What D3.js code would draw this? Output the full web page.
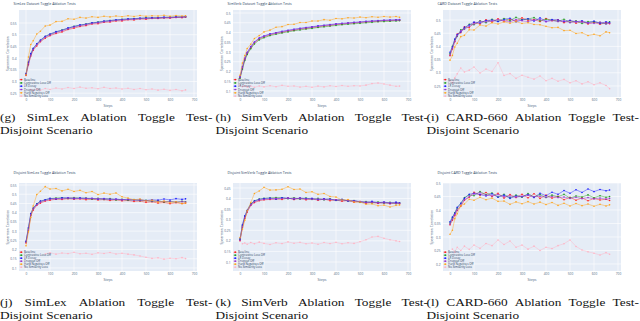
<!DOCTYPE html>
<html>
<head>
<meta charset="utf-8">
<script src="https://cdn.jsdelivr.net/npm/d3@7"></script>
<style>
  html, body { margin: 0; padding: 0; background: #fff; }
  svg { display: block; }
</style>
</head>
<body>
<svg id="fig" width="640" height="321"></svg>
<script>
// ---- data ----
const steps = [0,10,20,30,45,60,80,100,125,150,175,200,225,250,275,300,325,350,375,400,425,450,475,500,525,550,575,600,625,650,665];
const xTicks = [0,100,200,300,400,500,600,700];

const seriesNames = ["Baseline", "Contrastive Loss Off", "LR Decay", "Dropout Off", "Hard Negatives Off", "No Similarity Loss"];

const panelLetters = ["g", "h", "i", "j", "k", "l"];
const panelTitles = [
  "SimLex Dataset Toggle Ablation Tests",
  "SimVerb Dataset Toggle Ablation Tests",
  "CARD Dataset Toggle Ablation Tests",
  "Disjoint SimLex Toggle Ablation Tests",
  "Disjoint SimVerb Toggle Ablation Tests",
  "Disjoint CARD Toggle Ablation Tests"
];
const captionDatasets = ["SimLex", "SimVerb", "CARD-660", "SimLex", "SimVerb", "CARD-660"];

const yTicksG = [0.25,0.3,0.35,0.4,0.45,0.5,0.55];
const yTicksH = [0.1,0.15,0.2,0.25,0.3,0.35,0.4,0.45,0.5];
const yTicksI = [0.25,0.3,0.35,0.4,0.45,0.5];
const yTicksJ = [0.1,0.15,0.2,0.25,0.3,0.35,0.4,0.45,0.5,0.55];
const yTicksK = [0.1,0.15,0.2,0.25,0.3,0.35,0.4,0.45];
const yTicksL = [0.2,0.25,0.3,0.35,0.4,0.45,0.5];

// series order: red, green, blue, purple, orange, pink
const simlexFull = [
  [0.326,0.372,0.409,0.434,0.452,0.47,0.485,0.496,0.505,0.512,0.522,0.528,0.535,0.539,0.546,0.547,0.553,0.554,0.559,0.559,0.564,0.563,0.568,0.566,0.57,0.569,0.572,0.571,0.574,0.573,0.575],
  [0.331,0.38,0.417,0.44,0.46,0.475,0.492,0.502,0.511,0.52,0.527,0.536,0.54,0.546,0.55,0.554,0.557,0.561,0.562,0.566,0.566,0.569,0.569,0.572,0.571,0.573,0.573,0.575,0.575,0.577,0.576],
  [0.334,0.383,0.419,0.442,0.461,0.477,0.493,0.503,0.513,0.519,0.529,0.535,0.542,0.545,0.551,0.553,0.558,0.56,0.564,0.565,0.568,0.568,0.571,0.571,0.573,0.572,0.575,0.574,0.576,0.576,0.578],
  [0.329,0.376,0.413,0.437,0.457,0.473,0.489,0.499,0.509,0.517,0.525,0.533,0.538,0.543,0.548,0.551,0.555,0.558,0.561,0.563,0.565,0.566,0.568,0.569,0.57,0.571,0.572,0.573,0.574,0.575,0.576],
  [0.328,0.405,0.458,0.474,0.503,0.515,0.537,0.541,0.556,0.557,0.568,0.566,0.574,0.571,0.577,0.574,0.579,0.576,0.58,0.577,0.581,0.578,0.582,0.579,0.581,0.58,0.583,0.579,0.582,0.58,0.581],
  [null,null,0.266,0.261,0.268,0.263,0.27,0.266,0.272,0.268,0.274,0.27,0.276,0.271,0.273,0.269,0.275,0.27,0.272,0.268,0.271,0.266,0.27,0.265,0.268,0.263,0.267,0.262,0.266,0.26,0.264]
];
const simverbFull = [
  [0.168,0.215,0.262,0.292,0.321,0.347,0.366,0.378,0.387,0.396,0.4,0.408,0.411,0.418,0.42,0.426,0.428,0.434,0.435,0.441,0.442,0.447,0.448,0.452,0.453,0.457,0.457,0.461,0.46,0.463,0.462],
  [0.166,0.212,0.256,0.287,0.317,0.341,0.362,0.373,0.384,0.391,0.398,0.403,0.409,0.413,0.418,0.421,0.426,0.429,0.433,0.436,0.44,0.442,0.445,0.447,0.45,0.452,0.455,0.456,0.458,0.459,0.461],
  [0.172,0.224,0.268,0.298,0.328,0.351,0.372,0.382,0.393,0.399,0.406,0.411,0.417,0.421,0.426,0.429,0.434,0.437,0.441,0.444,0.447,0.449,0.452,0.454,0.457,0.459,0.461,0.463,0.464,0.465,0.466],
  [0.171,0.221,0.266,0.296,0.326,0.35,0.37,0.381,0.391,0.398,0.404,0.41,0.415,0.42,0.424,0.428,0.432,0.436,0.439,0.443,0.446,0.448,0.451,0.453,0.456,0.458,0.46,0.462,0.463,0.464,0.465],
  [0.18,0.243,0.282,0.318,0.34,0.369,0.384,0.403,0.412,0.427,0.43,0.441,0.442,0.451,0.451,0.459,0.459,0.466,0.463,0.472,0.47,0.476,0.474,0.479,0.476,0.481,0.478,0.482,0.479,0.482,0.478],
  [0.128,0.122,0.127,0.12,0.125,0.119,0.126,0.121,0.127,0.122,0.129,0.124,0.126,0.12,0.124,0.119,0.125,0.121,0.127,0.123,0.128,0.124,0.127,0.126,0.13,0.138,0.141,0.136,0.13,0.124,0.125]
];
const cardFull = [
  [0.365,0.39,0.418,0.447,0.452,0.474,0.471,0.49,0.485,0.501,0.492,0.505,0.494,0.503,0.496,0.508,0.499,0.502,0.494,0.506,0.497,0.501,0.49,0.498,0.488,0.495,0.485,0.492,0.484,0.49,0.486],
  [0.372,0.4,0.425,0.438,0.463,0.466,0.484,0.482,0.497,0.49,0.503,0.495,0.506,0.498,0.51,0.501,0.504,0.509,0.497,0.503,0.5,0.495,0.503,0.491,0.497,0.487,0.494,0.493,0.49,0.486,0.493],
  [0.378,0.398,0.428,0.445,0.455,0.472,0.481,0.492,0.489,0.498,0.5,0.494,0.502,0.507,0.493,0.5,0.505,0.496,0.508,0.495,0.502,0.5,0.494,0.499,0.493,0.497,0.489,0.496,0.487,0.493,0.49],
  [0.368,0.393,0.42,0.44,0.459,0.465,0.476,0.485,0.495,0.493,0.496,0.501,0.497,0.493,0.502,0.497,0.494,0.5,0.502,0.493,0.498,0.494,0.497,0.49,0.495,0.492,0.49,0.487,0.492,0.485,0.488],
  [0.348,0.366,0.398,0.412,0.437,0.442,0.463,0.462,0.481,0.477,0.49,0.485,0.493,0.488,0.494,0.487,0.49,0.483,0.482,0.476,0.471,0.472,0.46,0.461,0.449,0.452,0.441,0.446,0.44,0.455,0.452],
  [0.27,0.262,0.281,0.296,0.318,0.303,0.31,0.322,0.299,0.314,0.305,0.338,0.29,0.297,0.279,0.291,0.283,0.276,0.288,0.27,0.279,0.268,0.275,0.262,0.27,0.258,0.266,0.255,0.262,0.252,0.24]
];
const simlexDisjoint = [
  [0.236,0.302,0.384,0.414,0.44,0.452,0.463,0.468,0.473,0.472,0.476,0.473,0.475,0.47,0.474,0.469,0.471,0.466,0.47,0.464,0.466,0.461,0.463,0.456,0.459,0.452,0.455,0.449,0.454,0.45,0.452],
  [0.242,0.315,0.392,0.423,0.448,0.461,0.469,0.476,0.479,0.481,0.477,0.482,0.478,0.479,0.473,0.478,0.472,0.476,0.469,0.473,0.467,0.471,0.465,0.467,0.461,0.464,0.458,0.462,0.457,0.461,0.459],
  [0.245,0.318,0.395,0.425,0.447,0.463,0.47,0.478,0.474,0.48,0.481,0.476,0.48,0.477,0.478,0.473,0.477,0.472,0.474,0.47,0.473,0.468,0.471,0.466,0.47,0.468,0.474,0.469,0.476,0.472,0.475],
  [0.24,0.309,0.388,0.419,0.443,0.457,0.466,0.472,0.477,0.475,0.479,0.479,0.476,0.478,0.476,0.476,0.474,0.473,0.472,0.471,0.47,0.469,0.467,0.465,0.463,0.461,0.46,0.46,0.458,0.46,0.458],
  [0.22,0.296,0.374,0.436,0.498,0.516,0.541,0.528,0.531,0.518,0.527,0.515,0.521,0.508,0.515,0.498,0.506,0.5,0.507,0.486,0.479,0.47,0.474,0.463,0.468,0.457,0.463,0.454,0.459,0.449,0.452],
  [null,null,null,null,null,null,0.176,0.183,0.175,0.181,0.178,0.185,0.177,0.18,0.174,0.182,0.179,0.184,0.176,0.18,0.175,0.171,0.165,0.158,0.152,0.155,0.148,0.153,0.15,0.156,0.151]
];
const simverbDisjoint = [
  [0.2,0.264,0.306,0.336,0.368,0.381,0.39,0.394,0.396,0.398,0.396,0.403,0.395,0.402,0.394,0.399,0.392,0.398,0.39,0.394,0.387,0.392,0.383,0.386,0.378,0.383,0.377,0.382,0.375,0.38,0.376],
  [0.207,0.272,0.315,0.343,0.375,0.389,0.398,0.401,0.403,0.405,0.404,0.399,0.404,0.397,0.403,0.396,0.401,0.394,0.399,0.391,0.395,0.388,0.391,0.382,0.386,0.379,0.384,0.378,0.382,0.376,0.38],
  [0.209,0.276,0.318,0.345,0.374,0.388,0.396,0.4,0.402,0.397,0.404,0.402,0.398,0.403,0.4,0.401,0.395,0.399,0.397,0.392,0.396,0.389,0.39,0.386,0.381,0.387,0.38,0.384,0.378,0.383,0.379],
  [0.203,0.268,0.31,0.339,0.37,0.385,0.393,0.396,0.398,0.401,0.4,0.4,0.401,0.399,0.398,0.397,0.398,0.395,0.396,0.394,0.391,0.39,0.388,0.385,0.383,0.381,0.381,0.379,0.38,0.377,0.378],
  [0.215,0.255,0.297,0.342,0.381,0.424,0.436,0.453,0.44,0.441,0.444,0.456,0.443,0.445,0.429,0.432,0.42,0.424,0.41,0.407,0.393,0.395,0.384,0.384,0.373,0.375,0.366,0.369,0.36,0.368,0.37],
  [null,0.186,0.19,0.184,0.192,0.186,0.194,0.188,0.183,0.191,0.187,0.195,0.189,0.193,0.186,0.19,0.184,0.192,0.187,0.193,0.186,0.191,0.188,0.196,0.205,0.218,0.221,0.212,0.205,0.2,0.197]
];
const cardDisjoint = [
  [0.345,0.362,0.38,0.398,0.414,0.436,0.447,0.466,0.455,0.465,0.45,0.462,0.444,0.457,0.446,0.458,0.445,0.46,0.443,0.455,0.444,0.451,0.438,0.447,0.436,0.445,0.434,0.443,0.437,0.44,0.435],
  [0.352,0.371,0.39,0.407,0.424,0.446,0.456,0.453,0.468,0.457,0.463,0.448,0.458,0.445,0.455,0.447,0.461,0.448,0.457,0.446,0.455,0.449,0.458,0.444,0.452,0.448,0.456,0.445,0.453,0.447,0.45],
  [0.356,0.374,0.388,0.41,0.425,0.443,0.458,0.462,0.457,0.452,0.46,0.447,0.455,0.443,0.452,0.449,0.457,0.446,0.462,0.453,0.466,0.458,0.472,0.462,0.475,0.465,0.478,0.468,0.476,0.471,0.474],
  [0.348,0.365,0.383,0.4,0.418,0.438,0.449,0.459,0.464,0.455,0.452,0.457,0.449,0.452,0.447,0.451,0.454,0.449,0.451,0.447,0.45,0.446,0.448,0.443,0.447,0.442,0.446,0.441,0.444,0.44,0.443],
  [0.31,0.325,0.368,0.386,0.416,0.422,0.44,0.436,0.447,0.438,0.444,0.432,0.433,0.421,0.43,0.423,0.431,0.422,0.429,0.42,0.428,0.417,0.425,0.415,0.424,0.416,0.422,0.414,0.421,0.415,0.419],
  [null,0.255,0.243,0.262,0.25,0.266,0.254,0.27,0.258,0.276,0.268,0.289,0.272,0.285,0.262,0.27,0.255,0.266,0.25,0.262,0.257,0.268,0.275,0.289,0.265,0.252,0.245,0.24,0.233,0.242,0.236]
];

// ---- styles / layout ----
const seriesColors = ["#ff1a1a", "#1f9a1f", "#1a1aff", "#9933cc", "#ffa31a", "#ffb3c4"];
const plotFont = "'Open Sans', Arial, sans-serif";
const capFont = "'Liberation Serif', 'Times New Roman', serif";
const inkColor = "#506784";
const plotW = 178;
const colLeft = [19, 233, 443];
const rowBox = [
  { top: 10, bottom: 97, titleY: 5.3, legendTop: 79.6, legendStep: 3.3, cap1: 121, cap2: 134 },
  { top: 183, bottom: 271, titleY: 174.3, legendTop: 252.2, legendStep: 3.0, cap1: 306, cap2: 319 }
];
const capLeft = [0, 215.5, 426.5];
const capWidth = 212.5;
const capSquash = 0.82;   // the scanned captions look wider than tall
const xDomain = [-29.2, 712.5];

const panels = [
  { data: simlexFull,      yTicks: yTicksG, yDomain: [0.2337, 0.6056] },
  { data: simverbFull,     yTicks: yTicksH, yDomain: [0.0692, 0.5154] },
  { data: cardFull,        yTicks: yTicksI, yDomain: [0.2083, 0.538] },
  { data: simlexDisjoint,  yTicks: yTicksJ, yDomain: [0.0837, 0.5609] },
  { data: simverbDisjoint, yTicks: yTicksK, yDomain: [0.0575, 0.4736] },
  { data: cardDisjoint,    yTicks: yTicksL, yDomain: [0.174, 0.5] }
].map((p, i) => Object.assign(p, {
  letter: panelLetters[i], title: panelTitles[i], dataset: captionDatasets[i],
  col: i % 3, row: Math.floor(i / 3)
}));

const svg = d3.select("#fig");

function drawPanel(p) {
  const left = colLeft[p.col];
  const box = rowBox[p.row];
  const x = d3.scaleLinear().domain(xDomain).range([left, left + plotW]);
  const y = d3.scaleLinear().domain(p.yDomain).range([box.bottom, box.top]);
  const g = svg.append("g");

  // plot background + grid (plotly look)
  g.append("rect")
    .attr("x", left).attr("y", box.top)
    .attr("width", plotW).attr("height", box.bottom - box.top)
    .attr("fill", "#e5ecf6");

  g.append("g").selectAll("line").data(xTicks).join("line")
    .attr("x1", d => x(d)).attr("x2", d => x(d))
    .attr("y1", box.top).attr("y2", box.bottom)
    .attr("stroke", "#fff").attr("stroke-width", 0.6);
  g.append("g").selectAll("line").data(p.yTicks).join("line")
    .attr("x1", left).attr("x2", left + plotW)
    .attr("y1", d => y(d)).attr("y2", d => y(d))
    .attr("stroke", "#fff").attr("stroke-width", 0.6);

  // axes
  const yAxis = g.append("g")
    .attr("transform", `translate(${left},0)`)
    .call(d3.axisLeft(y).tickValues(p.yTicks).tickSize(0).tickPadding(2.5).tickFormat(d3.format("~g")));
  const xAxis = g.append("g")
    .attr("transform", `translate(0,${box.bottom})`)
    .call(d3.axisBottom(x).tickValues(xTicks).tickSize(0).tickPadding(1.8));
  [yAxis, xAxis].forEach(a => {
    a.select(".domain").remove();
    a.attr("font-size", 3.2).attr("font-family", plotFont).attr("color", inkColor);
  });

  g.append("text")
    .attr("x", left + plotW / 2).attr("y", box.bottom + 10)
    .attr("text-anchor", "middle")
    .attr("font-family", plotFont).attr("font-size", 3.6).attr("fill", inkColor)
    .text("Steps");

  g.append("text")
    .attr("transform", `translate(${left - 10.5},${(box.top + box.bottom) / 2}) rotate(-90)`)
    .attr("text-anchor", "middle")
    .attr("font-family", plotFont).attr("font-size", 3.4).attr("fill", inkColor)
    .text("Spearman Correlation");

  g.append("text")
    .attr("x", left - 5.5).attr("y", box.titleY)
    .attr("font-family", plotFont).attr("font-size", 3.6).attr("fill", "#2a3f5f")
    .text(p.title);

  // traces
  const line = d3.line()
    .defined(d => d[1] != null)
    .x(d => x(d[0]))
    .y(d => y(d[1]));

  p.data.forEach((vals, si) => {
    const pts = steps.map((s, k) => [s, vals[k]]);
    const color = seriesColors[si];
    g.append("path")
      .attr("d", line(pts))
      .attr("fill", "none")
      .attr("stroke", color)
      .attr("stroke-width", 0.45);
    g.append("g").selectAll("circle")
      .data(pts.filter(d => d[1] != null))
      .join("circle")
      .attr("cx", d => x(d[0]))
      .attr("cy", d => y(d[1]))
      .attr("r", 0.8)
      .attr("fill", color);
  });

  // legend, bottom-left inside the plot
  const lg = g.append("g");
  seriesNames.forEach((name, si) => {
    const ly = box.legendTop + si * box.legendStep;
    lg.append("line")
      .attr("x1", left + 0.6).attr("x2", left + 3.8)
      .attr("y1", ly).attr("y2", ly)
      .attr("stroke", seriesColors[si]).attr("stroke-width", 0.5);
    lg.append("circle")
      .attr("cx", left + 2.2).attr("cy", ly).attr("r", 0.85)
      .attr("fill", seriesColors[si]);
    lg.append("text")
      .attr("x", left + 5).attr("y", ly).attr("dy", "0.35em")
      .attr("font-family", plotFont).attr("font-size", 2.9).attr("fill", "#2a3f5f")
      .text(name);
  });
}

// justified first caption line, plain second line
function drawCaption(p) {
  const x0 = capLeft[p.col];
  const box = rowBox[p.row];
  const words = `(${p.letter}) ${p.dataset} Ablation Toggle Test-`.split(" ");
  const cg = svg.append("g")
    .attr("font-family", capFont).attr("font-size", 13.3).attr("fill", "#111");
  const nodes = words.map(w => cg.append("text").text(w));
  const widths = nodes.map(n => n.node().getComputedTextLength());
  const gap = (capWidth - d3.sum(widths)) / (words.length - 1);
  let cx = x0;
  nodes.forEach((n, i) => {
    n.attr("transform", `translate(${cx},${box.cap1}) scale(1,${capSquash})`);
    cx += widths[i] + gap;
  });
  cg.append("text")
    .attr("transform", `translate(${x0},${box.cap2}) scale(1,${capSquash})`)
    .text("Disjoint Scenario");
}

panels.forEach(drawPanel);
panels.forEach(drawCaption);
</script>
</body>
</html>
